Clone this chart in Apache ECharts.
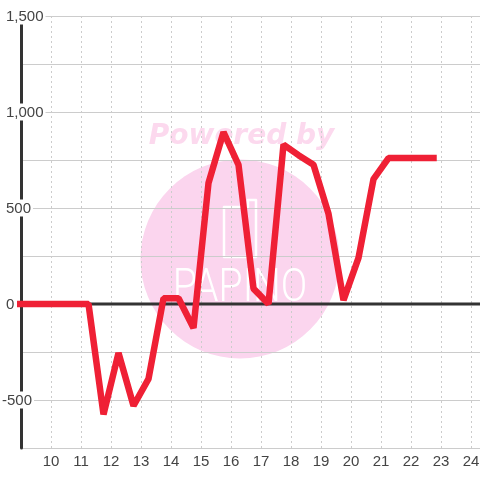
<!DOCTYPE html>
<html>
<head>
<meta charset="utf-8">
<style>
  html, body { margin: 0; background: #fff; }
  #chart { width: 480px; height: 480px; }
</style>
<script src="https://cdn.jsdelivr.net/npm/echarts@6/dist/echarts.min.js"></script>
</head>
<body>
<div id="chart"></div>
<script>
const hours = [8.75, 9.25, 9.75, 10.25, 10.75, 11.25, 11.75, 12.25, 12.75, 13.25, 13.75, 14.25, 14.75, 15.25, 15.75, 16.25, 16.75, 17.25, 17.75, 18.25, 18.75, 19.25, 19.75, 20.25, 20.75, 21.25, 21.75, 22.25, 22.75]
const values = [0, 0, 0, 0, 0, 0, -575, -255, -530, -390, 30, 30, -125, 630, 895, 725, 80, 0, 830, 775, 725, 470, 20, 240, 650, 760, 760, 760, 760]

const pink = '#fbd5ee'
const grey = '#333333'
const gridGrey = '#cccccc'

const chart = echarts.init(document.getElementById('chart'))
chart.setOption({
  animation: false,
  grid: { left: 21, right: 0, top: 16, bottom: 32, outerBoundsMode: 'none' },
  xAxis: {
    type: 'value',
    min: 9,
    max: 24.3,
    interval: 1,
    axisLine: { show: false },
    axisTick: { show: false },
    axisLabel: {
      color: '#444',
      fontFamily: 'Liberation Sans',
      fontSize: 15,
      margin: 6,
      formatter: (v) => (v >= 10 && v <= 24 ? String(v) : ''),
    },
    splitLine: { show: true, lineStyle: { color: gridGrey, type: [2, 3], width: 1 } },
  },
  yAxis: {
    type: 'value',
    min: -750,
    max: 1500,
    interval: 250,
    axisLine: { show: true, onZero: false, lineStyle: { color: grey, width: 3 } },
    axisTick: { show: false },
    axisLabel: {
      color: '#444',
      fontFamily: 'Liberation Sans',
      fontSize: 15,
      inside: true,
      margin: -19,
      align: 'left',
      verticalAlign: 'middle',
      formatter: (v) => {
        if (v % 500 !== 0) return ''
        const label = v.toLocaleString('en-US')
        return v < 0 ? `{neg|${label}}` : `{pos|${label}}`
      },
      rich: {
        neg: { backgroundColor: '#fff', padding: [2, 2, 0, 0], fontSize: 15, color: '#444' },
        pos: { backgroundColor: '#fff', padding: [2, 2, 0, 4], fontSize: 15, color: '#444' },
      },
    },
    splitLine: { show: true, lineStyle: { color: gridGrey, width: 1 } },
  },
  graphic: [
    { type: 'circle', z: -10, silent: true, shape: { cx: 240, cy: 259, r: 99.5 }, style: { fill: pink } },
    {
      type: 'text', z: -10, silent: true, x: 241.5, y: 137,
      style: { text: 'Powered by', fill: '#fcd9ee', font: 'italic bold 28px "DejaVu Sans"', textAlign: 'center', textVerticalAlign: 'middle' },
    },
    {
      type: 'polygon', z: -9, silent: true,
      shape: { points: [[224, 207], [248, 207], [248, 200], [256, 200], [256, 257], [224, 257]] },
      style: { fill: 'none', stroke: '#fff', lineWidth: 2.5, lineJoin: 'round' },
    },
    {
      type: 'text', z: -9, silent: true, x: 240, y: 289, scaleX: 0.85,
      style: { text: 'PAPINO', fill: '#fff', font: '300 46px Roboto', textAlign: 'center', textVerticalAlign: 'middle' },
    },
  ],
  series: [
    {
      type: 'line',
      data: hours.map((h, i) => [h, values[i]]),
      showSymbol: false,
      z: 4,
      lineStyle: { color: '#ef2035', width: 6.5, cap: 'square', join: 'bevel' },
    },
    {
      // zero baseline
      type: 'line',
      data: [[9, 0], [24.3, 0]],
      showSymbol: false,
      z: 3,
      lineStyle: { color: grey, width: 3 },
    },
  ],
})
</script>
</body>
</html>
